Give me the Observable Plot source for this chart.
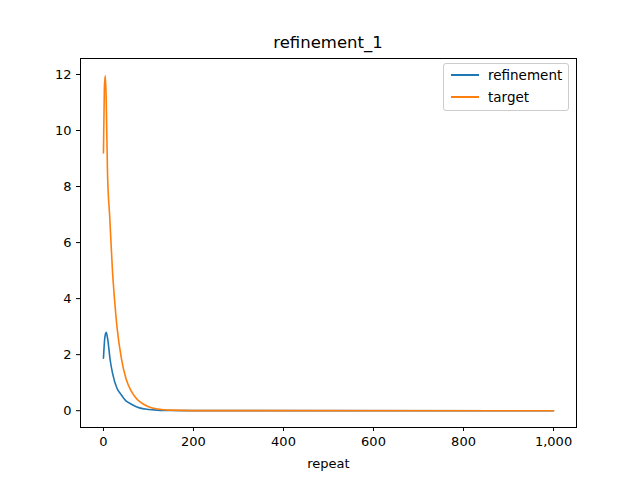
<!DOCTYPE html>
<html><head>
<script src="https://cdn.jsdelivr.net/npm/d3@7"></script>
<script src="https://cdn.jsdelivr.net/npm/@observablehq/plot@0.6"></script>
<style>
body{margin:0;background:#fff;font-family:"DejaVu Sans",sans-serif}
#wrap{position:relative;width:640px;height:480px}
#title{position:absolute;top:33px;left:80px;width:496px;text-align:center;font-size:16.5px}
#legend{position:absolute;left:443px;top:63px;width:124px;height:46px;border:1px solid #ccc;border-radius:3px;background:#fff;font-size:13.5px}
#legend div{display:flex;align-items:center;height:22px;padding-left:7px}
#legend span{display:inline-block;width:28px;height:2px;margin-right:9px}
</style>
</head><body>
<div id="wrap"><div id="chart"></div><div id="title">refinement_1</div>
<div id="legend"><div><span style="background:#1f77b4"></span>refinement</div><div><span style="background:#ff7f0e"></span>target</div></div></div>
<script>
const refX = [0, 3, 6, 9, 15, 20, 30, 38, 50, 60, 80, 100, 120, 150, 200, 1000];
const refY = [1.87, 2.6, 2.8, 2.6, 1.8, 1.35, 0.8, 0.6, 0.35, 0.25, 0.1, 0.045, 0.02, 0.006, 0.001, 0];
const tgtX = [0, 2, 4, 6, 9, 14, 20, 25, 30, 40, 50, 60, 70, 80, 100, 120, 150, 200, 1000];
const tgtY = [9.2, 11.5, 11.95, 11.2, 8.5, 6.9, 5.0, 3.9, 3.0, 1.85, 1.15, 0.75, 0.5, 0.33, 0.14, 0.06, 0.02, 0.003, 0];

const ref = refX.map((x, i) => ({x, y: refY[i]}));
const tgt = tgtX.map((x, i) => ({x, y: tgtY[i]}));

const chart = Plot.plot({
  width: 640, height: 480,
  marginLeft: 80, marginRight: 64, marginTop: 58, marginBottom: 53,
  style: {fontFamily: "DejaVu Sans", fontSize: "13px", color: "#000"},
  x: {domain: [-51, 1051], ticks: [0, 200, 400, 600, 800, 1000], tickSize: 4, label: "repeat", labelAnchor: "center", labelArrow: "none", labelOffset: 40},
  y: {domain: [-0.6, 12.57], ticks: [0, 2, 4, 6, 8, 10, 12], tickSize: 4, label: null},
  marks: [
    Plot.frame({stroke: "#000"}),
    Plot.line(ref, {x: "x", y: "y", stroke: "#1f77b4", strokeWidth: 1.6, curve: "monotone-x"}),
    Plot.line(tgt, {x: "x", y: "y", stroke: "#ff7f0e", strokeWidth: 1.6, curve: "monotone-x"})
  ]
});
d3.select("#chart").append(() => chart);
</script>
</body></html>
